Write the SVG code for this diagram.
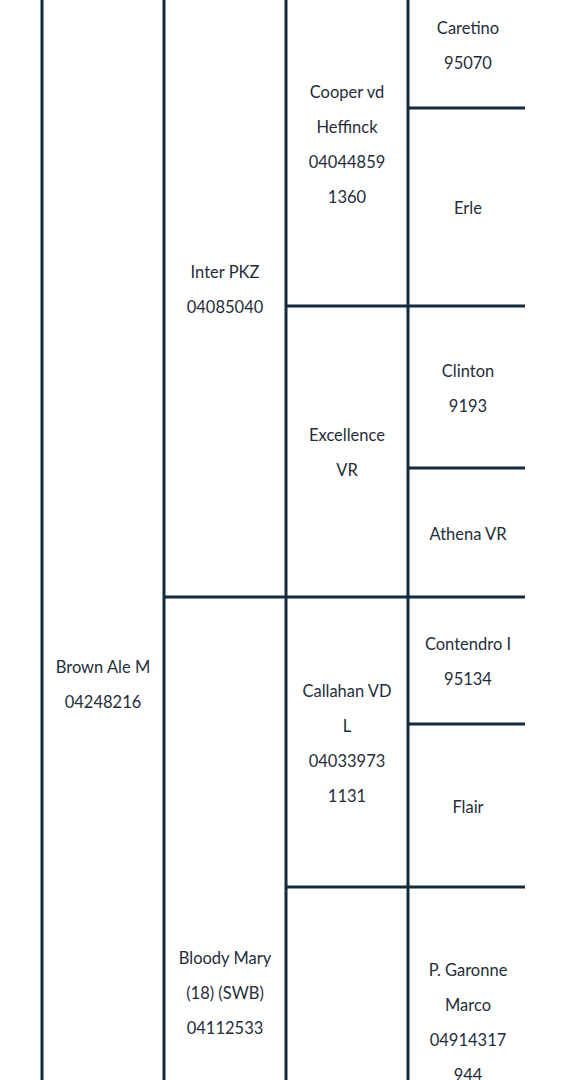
<svg xmlns="http://www.w3.org/2000/svg" width="566" height="1080" viewBox="0 0 566 1080">
<style>
.ln{stroke:#132b3c;stroke-width:3;fill:none}
text{font-family:Lato,"Open Sans","Liberation Sans",sans-serif;font-size:16.5px;fill:#1f2d3a;text-anchor:middle}
</style>
<rect width="566" height="1080" fill="#ffffff"/>
<g id="connectors" class="ln">
<line x1="42" y1="0" x2="42" y2="1080"/>
<line x1="164" y1="0" x2="164" y2="1080"/>
<line x1="286" y1="0" x2="286" y2="1080"/>
<line x1="408" y1="0" x2="408" y2="1080"/>
<line x1="408" y1="108" x2="525" y2="108"/>
<line x1="286" y1="306" x2="525" y2="306"/>
<line x1="408" y1="468" x2="525" y2="468"/>
<line x1="164" y1="597" x2="525" y2="597"/>
<line x1="408" y1="724" x2="525" y2="724"/>
<line x1="286" y1="887" x2="525" y2="887"/>
</g>
<g id="brown-ale-m"><text x="103" y="673">Brown Ale M</text><text x="103" y="708">04248216</text></g>
<g id="inter-pkz"><text x="225" y="278">Inter PKZ</text><text x="225" y="313">04085040</text></g>
<g id="bloody-mary"><text x="225" y="964">Bloody Mary</text><text x="225" y="999">(18) (SWB)</text><text x="225" y="1034">04112533</text></g>
<g id="cooper"><text x="347" y="98">Cooper vd</text><text x="347" y="133">Heffinck</text><text x="347" y="168">04044859</text><text x="347" y="203">1360</text></g>
<g id="excellence"><text x="347" y="441">Excellence</text><text x="347" y="476">VR</text></g>
<g id="callahan"><text x="347" y="697">Callahan VD</text><text x="347" y="732">L</text><text x="347" y="767">04033973</text><text x="347" y="802">1131</text></g>
<g id="caretino"><text x="468" y="34">Caretino</text><text x="468" y="69">95070</text></g>
<g id="erle"><text x="468" y="214">Erle</text></g>
<g id="clinton"><text x="468" y="377">Clinton</text><text x="468" y="412">9193</text></g>
<g id="athena"><text x="468" y="540">Athena VR</text></g>
<g id="contendro"><text x="468" y="650">Contendro I</text><text x="468" y="685">95134</text></g>
<g id="flair"><text x="468" y="813">Flair</text></g>
<g id="garonne"><text x="468" y="976">P. Garonne</text><text x="468" y="1011">Marco</text><text x="468" y="1046">04914317</text><text x="468" y="1081">944</text></g>
</svg>
